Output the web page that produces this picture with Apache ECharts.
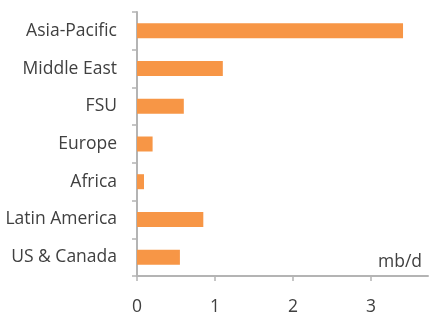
<!DOCTYPE html>
<html>
<head>
<meta charset="utf-8">
<script src="https://cdn.jsdelivr.net/npm/echarts@6/dist/echarts.min.js"></script>
<style>
  html, body { margin: 0; padding: 0; background: #fff; }
  #chart { width: 430px; height: 320px; }
</style>
</head>
<body>
<div id="chart"></div>
<script>
// regions, bottom to top (category axis starts at the bottom)
var regions = ['US & Canada', 'Latin America', 'Africa', 'Europe', 'FSU', 'Middle East', 'Asia-Pacific'];
var demand = [0.55, 0.85, 0.09, 0.2, 0.6, 1.1, 3.41];
var xTicks = [0, 1, 2, 3];

var axisGrey = '#b4b4b4';
var textGrey = '#404040';
var font = '"Open Sans", sans-serif';

var myChart = echarts.init(document.getElementById('chart'));
var option = {
    animation: false,
    grid: { left: 137, top: 12, right: 2, bottom: 44 },
    xAxis: {
        type: 'value',
        min: 0,
        max: 3.73,
        interval: 1,
        splitLine: { show: false },
        axisLine: { show: true, lineStyle: { color: axisGrey, width: 2 } },
        axisTick: { show: true, length: 5, customValues: xTicks, lineStyle: { color: axisGrey, width: 1.5 } },
        axisLabel: { customValues: xTicks, margin: 22, color: textGrey, fontSize: 17.5, fontFamily: font }
    },
    yAxis: {
        type: 'category',
        data: regions,
        axisLine: { show: true, lineStyle: { color: axisGrey, width: 2 } },
        axisTick: { show: true, length: 5, lineStyle: { color: axisGrey, width: 1.5 } },
        axisLabel: { margin: 20, color: textGrey, fontSize: 17.5, fontFamily: font }
    },
    graphic: [{
        type: 'text',
        right: 8,
        top: 253,
        style: { text: 'mb/d', fill: textGrey, fontSize: 17.5, fontFamily: font }
    }],
    series: [{
        type: 'bar',
        data: demand,
        barWidth: 15,
        itemStyle: { color: '#f79646' }
    }]
};
myChart.setOption(option);
</script>
</body>
</html>
